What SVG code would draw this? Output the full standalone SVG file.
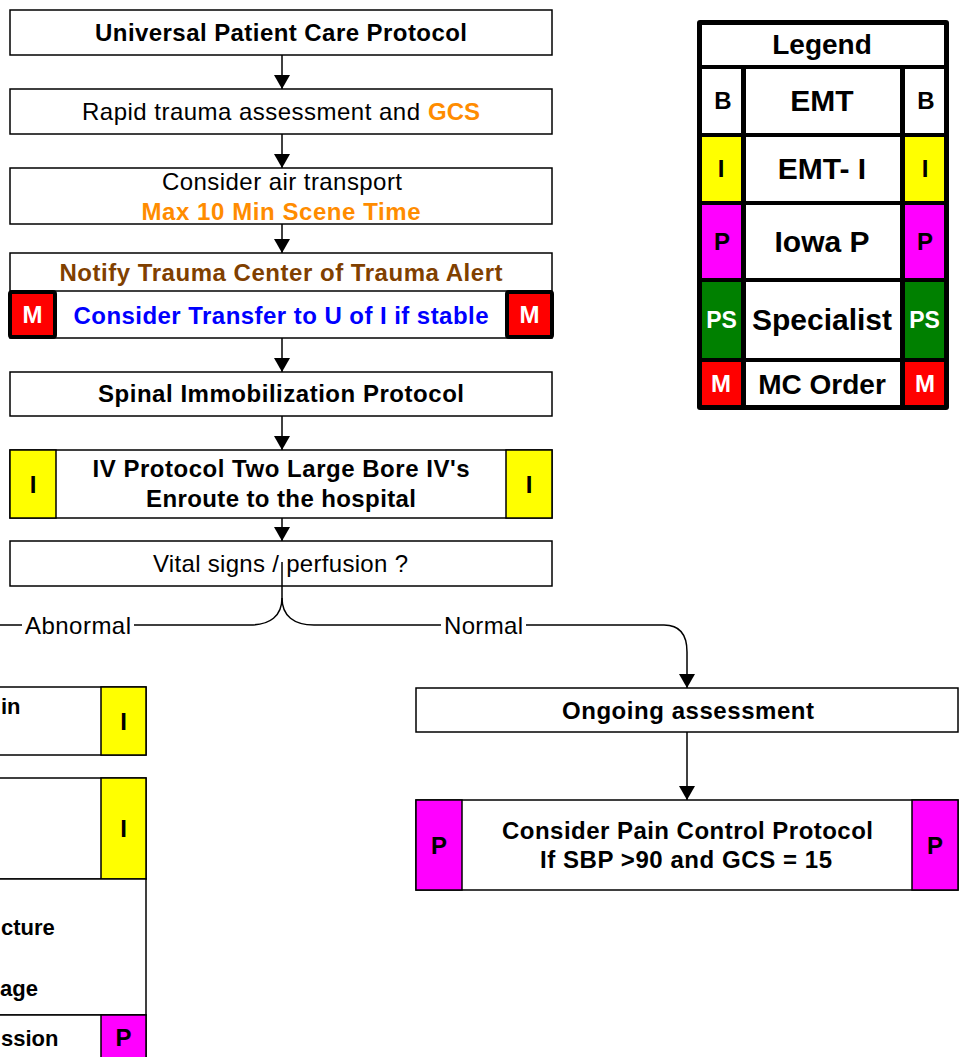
<svg xmlns="http://www.w3.org/2000/svg" width="959" height="1057" viewBox="0 0 959 1057">
<style>
.box{fill:#fff;stroke:#000;stroke-width:1.5}
.t{font-family:"Liberation Sans",Arial,sans-serif;font-size:24px;text-anchor:middle;fill:#000}
.b{font-weight:bold}
.frag{font-family:"Liberation Sans",Arial,sans-serif;font-size:22px;font-weight:bold;text-anchor:start;fill:#000}
.side{font-family:"Liberation Sans",Arial,sans-serif;font-size:24px;font-weight:bold;text-anchor:middle}
.yel{fill:#FFFF00;stroke:#000;stroke-width:1.5}
.mag{fill:#FF00FF;stroke:#000;stroke-width:1.5}
.redm{fill:#FF0000;stroke:#000;stroke-width:4}
.conn{fill:none;stroke:#000;stroke-width:1.5}
.lg{font-family:"Liberation Sans",Arial,sans-serif;font-weight:bold;text-anchor:middle}
</style>
<defs>
<marker id="ah" viewBox="0 0 14 16" refX="14" refY="8" markerWidth="14" markerHeight="16" markerUnits="userSpaceOnUse" orient="auto">
<path d="M0,0 L14,8 L0,16 Z" fill="#000"/>
</marker>
</defs>
<rect width="959" height="1057" fill="#fff"/>

<g id="connectors">
<line class="conn" x1="282" y1="55" x2="282" y2="89" marker-end="url(#ah)"/>
<line class="conn" x1="282" y1="134" x2="282" y2="168" marker-end="url(#ah)"/>
<line class="conn" x1="282" y1="224" x2="282" y2="253" marker-end="url(#ah)"/>
<line class="conn" x1="282" y1="338" x2="282" y2="372" marker-end="url(#ah)"/>
<line class="conn" x1="282" y1="416" x2="282" y2="450" marker-end="url(#ah)"/>
<line class="conn" x1="282" y1="518" x2="282" y2="541" marker-end="url(#ah)"/>
<path class="conn" d="M282,562 V598 C282,616 270,625 250,625 H0"/>
<path class="conn" d="M282,598 C282,616 294,625 314,625 H664 C680,625 687,635 687,652 V688" marker-end="url(#ah)"/>
<line class="conn" x1="687" y1="732" x2="687" y2="800" marker-end="url(#ah)"/>
<rect x="22" y="612" width="112" height="26" fill="#fff"/>
<rect x="441" y="612" width="85" height="26" fill="#fff"/>
<text class="t" x="78" y="633.5" textLength="106" lengthAdjust="spacing">Abnormal</text>
<text class="t" x="483.5" y="633.5" textLength="79" lengthAdjust="spacing">Normal</text>
</g>

<g id="n1">
<rect class="box" x="10" y="10" width="542" height="45"/>
<text class="t b" x="281" y="40.5" textLength="372" lengthAdjust="spacing">Universal Patient Care Protocol</text>
</g>
<g id="n2">
<rect class="box" x="10" y="89" width="542" height="45"/>
<text class="t" x="82" y="119.5" style="text-anchor:start"><tspan textLength="338" lengthAdjust="spacing">Rapid trauma assessment and</tspan><tspan x="428" font-weight="bold" style="fill:#FF8C00" textLength="52" lengthAdjust="spacing">GCS</tspan></text>
</g>
<g id="n3">
<rect class="box" x="10" y="168" width="542" height="56"/>
<text class="t" x="282" y="189.5" textLength="240" lengthAdjust="spacing">Consider air transport</text>
<text class="t b" x="281" y="219.5" style="fill:#FF8C00" textLength="279" lengthAdjust="spacing">Max 10 Min Scene Time</text>
</g>
<g id="n4">
<rect class="box" x="10" y="253" width="542" height="85"/>
<line x1="10" y1="291" x2="552" y2="291" stroke="#000" stroke-width="1.5"/>
<text class="t b" x="281" y="280.5" style="fill:#804000" textLength="443" lengthAdjust="spacing">Notify Trauma Center of Trauma Alert</text>
<text class="t b" x="281" y="323.5" style="fill:#0000FF" textLength="415" lengthAdjust="spacing">Consider Transfer to U of I if stable</text>
<rect class="redm" x="10" y="292" width="45" height="45" rx="2"/>
<rect class="redm" x="507" y="292" width="45" height="45" rx="2"/>
<text class="side" x="32.5" y="323" fill="#fff">M</text>
<text class="side" x="529.5" y="323" fill="#fff">M</text>
</g>
<g id="n5">
<rect class="box" x="10" y="372" width="542" height="44"/>
<text class="t b" x="281" y="401.5" textLength="366" lengthAdjust="spacing">Spinal Immobilization Protocol</text>
</g>
<g id="n6">
<rect class="box" x="10" y="450" width="542" height="68"/>
<rect class="yel" x="10" y="450" width="46" height="68"/>
<rect class="yel" x="506" y="450" width="46" height="68"/>
<text class="side" x="33" y="493">I</text>
<text class="side" x="529" y="493">I</text>
<text class="t b" x="281" y="476.5" textLength="377" lengthAdjust="spacing">IV Protocol Two Large Bore IV's</text>
<text class="t b" x="281" y="506.5" textLength="270" lengthAdjust="spacing">Enroute to the hospital</text>
</g>
<g id="n7">
<rect class="box" x="10" y="541" width="542" height="45"/>
<text class="t" x="280.5" y="571.5" textLength="255" lengthAdjust="spacing">Vital signs / perfusion ?</text>
<line class="conn" x1="282" y1="562" x2="282" y2="586"/>
</g>

<g id="n8">
<rect class="box" x="-100" y="687" width="246" height="68"/>
<rect class="yel" x="101" y="687" width="45" height="68"/>
<text class="side" x="123.5" y="730">I</text>
<text class="frag" x="1" y="713.5">in</text>
</g>
<g id="n9">
<rect class="box" x="-100" y="778" width="246" height="101"/>
<rect class="yel" x="101" y="778" width="45" height="101"/>
<text class="side" x="123.5" y="837">I</text>
</g>
<g id="n10">
<rect class="box" x="-100" y="879" width="246" height="136"/>
<text class="frag" x="1" y="934.5">cture</text>
<text class="frag" x="0" y="995.5">age</text>
</g>
<g id="n11">
<rect class="box" x="-100" y="1015" width="246" height="60"/>
<rect class="mag" x="101" y="1015" width="45" height="60"/>
<text class="side" x="123.5" y="1046">P</text>
<text class="frag" x="1" y="1045.5">ssion</text>
</g>

<g id="n12">
<rect class="box" x="416" y="688" width="542" height="44"/>
<text class="t b" x="688" y="718.5" textLength="252" lengthAdjust="spacing">Ongoing assessment</text>
</g>
<g id="n13">
<rect class="box" x="416" y="800" width="542" height="90"/>
<rect class="mag" x="416" y="800" width="46" height="90"/>
<rect class="mag" x="912" y="800" width="46" height="90"/>
<text class="side" x="439" y="854">P</text>
<text class="side" x="935" y="854">P</text>
<text class="t b" x="687.5" y="838.5" textLength="371" lengthAdjust="spacing">Consider Pain Control Protocol</text>
<text class="t b" x="686" y="867.5" textLength="292" lengthAdjust="spacing">If SBP &gt;90 and GCS = 15</text>
</g>

<g id="legend">
<rect x="697" y="20" width="252" height="390" rx="3" fill="#000"/>
<rect x="702" y="25" width="242" height="40" fill="#fff"/>
<rect x="702" y="69" width="39" height="64" fill="#fff"/>
<rect x="746" y="69" width="154" height="64" fill="#fff"/>
<rect x="905" y="69" width="39" height="64" fill="#fff"/>
<rect x="702" y="137" width="39" height="64" fill="#FFFF00"/>
<rect x="746" y="137" width="154" height="64" fill="#fff"/>
<rect x="905" y="137" width="39" height="64" fill="#FFFF00"/>
<rect x="702" y="205" width="39" height="73" fill="#FF00FF"/>
<rect x="746" y="205" width="154" height="73" fill="#fff"/>
<rect x="905" y="205" width="39" height="73" fill="#FF00FF"/>
<rect x="702" y="282" width="39" height="76" fill="#008000"/>
<rect x="746" y="282" width="154" height="76" fill="#fff"/>
<rect x="905" y="282" width="39" height="76" fill="#008000"/>
<rect x="702" y="362" width="39" height="43" fill="#FF0000"/>
<rect x="746" y="362" width="154" height="43" fill="#fff"/>
<rect x="905" y="362" width="39" height="43" fill="#FF0000"/>
<text class="lg" x="822" y="54" font-size="28">Legend</text>
<text class="lg" x="822" y="111" font-size="30">EMT</text>
<text class="lg" x="822" y="179" font-size="30">EMT- I</text>
<text class="lg" x="822" y="252" font-size="30">Iowa P</text>
<text class="lg" x="822" y="330" font-size="30">Specialist</text>
<text class="lg" x="822" y="394" font-size="28">MC Order</text>
<text class="lg" x="723" y="109" font-size="24">B</text>
<text class="lg" x="926" y="109" font-size="24">B</text>
<text class="lg" x="721" y="177" font-size="24">I</text>
<text class="lg" x="925" y="177" font-size="24">I</text>
<text class="lg" x="722" y="250" font-size="24">P</text>
<text class="lg" x="925" y="250" font-size="24">P</text>
<text class="lg" x="721.5" y="328" font-size="23" fill="#fff">PS</text>
<text class="lg" x="924.5" y="328" font-size="23" fill="#fff">PS</text>
<text class="lg" x="721" y="392" font-size="24" fill="#fff">M</text>
<text class="lg" x="925" y="392" font-size="24" fill="#fff">M</text>
</g>
</svg>
